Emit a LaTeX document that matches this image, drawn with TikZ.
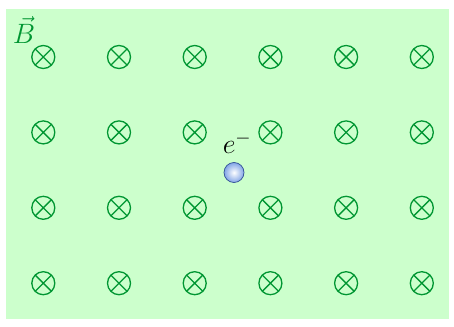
\RequirePackage{fix-cm}
\documentclass[tikz,border=0pt]{standalone}
\definecolor{fieldbg}{RGB}{204,255,204}
\definecolor{fieldgreen}{RGB}{0,150,50}
\definecolor{electronblue}{RGB}{130,165,230}
\definecolor{electronedge}{RGB}{50,80,150}
\begin{document}
\begin{tikzpicture}[x=1pt,y=-1pt,
  intopage/.style={draw=fieldgreen, line width=1.3pt, circle, minimum size=23pt, inner sep=0pt,
    path picture={\draw[fieldgreen, line width=1.3pt]
      (path picture bounding box.south west) -- (path picture bounding box.north east)
      (path picture bounding box.north west) -- (path picture bounding box.south east);}},
  bigtext/.style={font=\fontsize{28}{30}\selectfont}]
\useasboundingbox (0,0) rectangle (454,326);
\fill[fieldbg] (6,9) rectangle (449,319);

% field pointing into the page
\foreach \i in {0,...,5}
  \foreach \j in {0,...,3}
    \node[intopage] (b\i\j) at (43.3+75.7*\i, 57+75.4*\j) {};

\node[bigtext, text=fieldgreen] (Blabel) at (24,30) {$\vec{B}$};

% electron
\node[circle, minimum size=20pt, inner sep=0pt, shading=radial, inner color=white, outer color=electronblue, draw=electronedge, line width=0.7pt] (electron) at (234,172.5) {};
\node[bigtext] (elabel) at (237,143) {$e^{-}$};
\end{tikzpicture}
\end{document}
